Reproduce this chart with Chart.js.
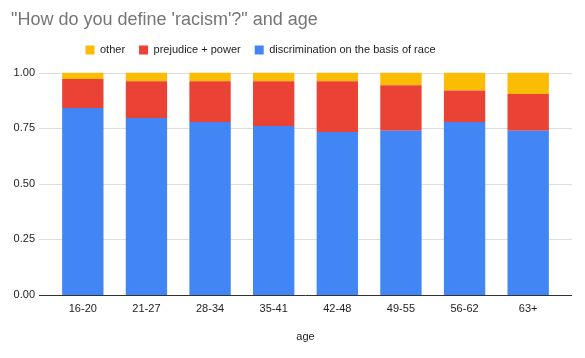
<!DOCTYPE html>
<html>
<head>
<meta charset="utf-8">
<script src="https://cdn.jsdelivr.net/npm/chart.js@4"></script>
<style>
  html, body { margin: 0; padding: 0; background: #fff; }
  #wrap { width: 585px; height: 358px; }
</style>
</head>
<body>
<div id="wrap"><canvas id="chart"></canvas></div>
<script>
  var ageGroups = ['16-20', '21-27', '28-34', '35-41', '42-48', '49-55', '56-62', '63+'];
  var discrimination = [0.841, 0.796, 0.778, 0.760, 0.733, 0.739, 0.778, 0.739];
  var prejudicePower = [0.130, 0.165, 0.183, 0.201, 0.228, 0.204, 0.142, 0.165];
  var other = [0.029, 0.039, 0.039, 0.039, 0.039, 0.057, 0.080, 0.096];
  var yTicks = [0, 0.25, 0.5, 0.75, 1];

  var font = 'Arial, "Liberation Sans", sans-serif';

  // google-style gridlines that run past the bars on both sides
  var gridPlugin = {
    id: 'wideGrid',
    beforeInit: function (chart) {
      // a bit more room under the legend
      var fit = chart.legend.fit;
      chart.legend.fit = function () {
        fit.call(this);
        this.height += 7;
      };
    },
    afterLayout: function (chart) {
      // legend sits left of centre in the original
      chart.legend.left -= 25;
      chart.legend.right -= 25;
    },
    beforeDatasetsDraw: function (chart) {
      var ctx = chart.ctx;
      var area = chart.chartArea;
      var y = chart.scales.y;
      ctx.save();
      yTicks.forEach(function (v) {
        var py = Math.round(y.getPixelForValue(v)) + 0.5;
        ctx.beginPath();
        ctx.strokeStyle = v === 0 ? '#333333' : '#dddddd';
        ctx.lineWidth = 1;
        ctx.moveTo(area.left - 12, py);
        ctx.lineTo(area.right + 12, py);
        ctx.stroke();
      });
      ctx.restore();
    },
  };

  new Chart(document.getElementById('chart'), {
    type: 'bar',
    data: {
      labels: ageGroups,
      datasets: [
        { label: 'discrimination on the basis of race', data: discrimination, backgroundColor: '#4285f4' },
        { label: 'prejudice + power', data: prejudicePower, backgroundColor: '#ea4335' },
        { label: 'other', data: other, backgroundColor: '#fbbc04' },
      ],
    },
    options: {
      responsive: true,
      maintainAspectRatio: false,
      animation: false,
      layout: { padding: { left: 11, right: 25, top: 0, bottom: 14.6 } },
      datasets: { bar: { categoryPercentage: 1, barPercentage: 0.65 } },
      plugins: {
        title: {
          display: true,
          text: '"How do you define \'racism\'?" and age',
          align: 'start',
          color: '#757575',
          font: { family: font, size: 18, weight: 'normal' },
          padding: { top: 9, bottom: 0 },
        },
        legend: {
          reverse: true,
          labels: {
            boxWidth: 9,
            boxHeight: 9,
            color: '#222222',
            padding: 14,
            font: { family: font, size: 11 },
          },
        },
        tooltip: { enabled: false },
      },
      scales: {
        x: {
          stacked: true,
          grid: { display: false, drawTicks: false },
          border: { display: false },
          ticks: { color: '#222222', font: { family: font, size: 11 }, padding: 7 },
          title: {
            display: true,
            text: 'age',
            color: '#222222',
            font: { family: font, size: 11 },
            padding: { top: 8, bottom: 0 },
          },
        },
        y: {
          stacked: true,
          min: 0,
          max: 1,
          afterBuildTicks: function (s) {
            s.ticks = yTicks.map(function (v) { return { value: v }; });
          },
          afterFit: function (s) { s.width = 40; },
          grid: { display: false },
          border: { display: false },
          ticks: {
            color: '#222222',
            font: { family: font, size: 11 },
            padding: 8,
            callback: function (v) { return v.toFixed(2); },
          },
        },
      },
    },
    plugins: [gridPlugin],
  });
</script>
</body>
</html>
